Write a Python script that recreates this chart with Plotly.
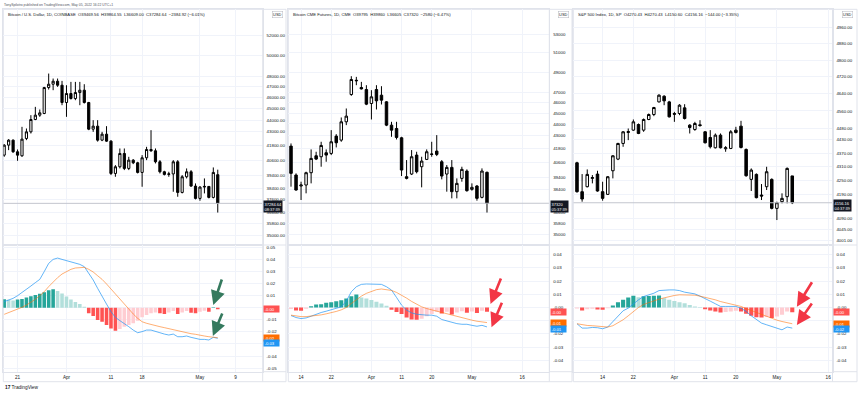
import math
import plotly.graph_objects as go

W, H = 860, 394

# ---------------- Panel 1: Bitcoin / U.S. Dollar, Coinbase, 1D (Mar 18 - May 5, 2022)
btc_open = [41033, 41855, 42273, 41305, 40979, 42413, 42978, 44043, 44424, 44571,
            46931, 47242, 47524, 47148, 45554, 46375, 45917, 46467, 46683, 45554,
            43206, 43464, 42273, 42779, 42189, 39568, 40095, 41169, 39962, 40628,
            40414, 39647, 40817, 41497, 41387, 40494, 39699, 39490, 39530, 40494,
            38103, 39307, 39699, 38585, 37652, 38509, 38560, 37727, 39469.56]
btc_high = [41940, 42357, 42330, 41497, 43406, 43263, 44424, 45164, 44926, 46993,
            48252, 47776, 47776, 47555, 47148, 47461, 47461, 47461, 47242, 45614,
            43985, 43985, 42978, 43464, 42273, 40227, 41579, 41579, 40898, 40709,
            40494, 41033, 41717, 43120, 41579, 40628, 39778, 39699, 40628, 40628,
            39438, 39962, 39831, 38790, 38585, 39177, 38585, 40042, 39864.55]
btc_low = [40898, 41442, 41223, 40575, 40898, 42273, 42836, 43985, 44277, 44512,
           46745, 46683, 46993, 45313, 44277, 45826, 45765, 45313, 45464, 43120,
           42978, 42150, 42189, 42133, 39438, 39307, 39962, 39831, 39831, 40307,
           39568, 38534, 40628, 41305, 40361, 39568, 39411, 39307, 38154, 37777,
           38028, 39177, 38534, 37578, 37478, 38028, 37652, 37652, 36609.00]
btc_close = [41855, 42273, 41305, 41033, 42357, 42978, 44043, 44424, 44630, 46931,
             47242, 47524, 47148, 45554, 46375, 45917, 46467, 46683, 45554, 43206,
             43464, 42273, 42779, 42189, 39568, 40095, 41169, 39962, 40628, 40414,
             39647, 40817, 41497, 41387, 40494, 39699, 39490, 39530, 40494, 38103,
             39307, 39699, 38585, 37652, 38509, 38560, 37727, 39647, 37284.64]
btc_macd = [0.0050, 0.0063, 0.0077, 0.0099, 0.0124, 0.0152, 0.0179, 0.0207, 0.0234, 0.0298,
            0.0366, 0.0399, 0.0410, 0.0399, 0.0388, 0.0377, 0.0372, 0.0358, 0.0339, 0.0289,
            0.0229, 0.0160, 0.0091, 0.0030, -0.0033, -0.0080, -0.0107, -0.0129, -0.0157, -0.0185,
            -0.0207, -0.0198, -0.0185, -0.0185, -0.0193, -0.0207, -0.0218, -0.0226, -0.0218, -0.0240,
            -0.0240, -0.0234, -0.0245, -0.0253, -0.0262, -0.0262, -0.0267, -0.0245, -0.0253]
btc_signal = [-0.0055, -0.0041, -0.0028, -0.0014, 0.0003, 0.0022, 0.0044, 0.0069, 0.0099, 0.0132,
              0.0174, 0.0215, 0.0248, 0.0278, 0.0300, 0.0317, 0.0328, 0.0333, 0.0333, 0.0317,
              0.0295, 0.0264, 0.0234, 0.0196, 0.0154, 0.0113, 0.0072, 0.0030, -0.0014, -0.0052,
              -0.0088, -0.0116, -0.0129, -0.0140, -0.0149, -0.0157, -0.0165, -0.0174, -0.0182, -0.0190,
              -0.0198, -0.0207, -0.0215, -0.0220, -0.0229, -0.0234, -0.0240, -0.0245, -0.0248]
btc_hist = [0.0070, 0.0065, 0.0060, 0.0068, 0.0072, 0.0085, 0.0095, 0.0105, 0.0115, 0.0128,
            0.0145, 0.0152, 0.0138, 0.0118, 0.0092, 0.0068, 0.0048, 0.0030, 0.0008, -0.0047,
            -0.0069, -0.0102, -0.0116, -0.0143, -0.0171, -0.0190, -0.0176, -0.0157, -0.0143, -0.0129,
            -0.0107, -0.0080, -0.0060, -0.0047, -0.0039, -0.0047, -0.0052, -0.0039, -0.0028, -0.0052,
            -0.0039, -0.0028, -0.0041, -0.0047, -0.0033, -0.0025, -0.0033, 0.0003, -0.0012]
btc_xtick_pos = [3, 14, 24, 31, 44, 52]
btc_xtick_text = ["21", "Apr", "11", "18", "May", "9"]
btc_price_ticks = [52000, 50000, 48000, 47000, 46000, 45000, 44000, 43000, 41800,
                   40600, 39400, 38400, 37600, 36600, 35800, 35000]
btc_macd_ticks = [0.05, 0.04, 0.03, 0.02, 0.01, 0.0, -0.01, -0.02, -0.03, -0.04, -0.05]
btc_macd_ticks_hidden = [0.0, -0.03]          # covered by the value tags
btc_title = "Bitcoin / U.S. Dollar, 1D, COINBASE  O39469.56  H39864.55  L36609.00  C37284.64  \u22122384.92 (\u22126.01%)"

# ---------------- Panel 2: Bitcoin CME Futures, 1D (Mar 10 - May 5, 2022)
cme_open = [42024, 39572, 38680, 38760, 39764, 41190, 41105, 41447, 41390, 42904,
            42550, 44199, 46778, 48123, 47462, 47265, 45913, 47265, 46713, 46072,
            43894, 43592, 42756, 39436, 39655, 41247, 40262, 40878, 41304, 41590,
            40681, 39655, 40206, 38228, 39300, 39902, 38413, 38680, 37780, 39795]
cme_high = [42257, 39710, 39029, 39847, 41735, 41533, 42403, 41735, 43441, 43082,
            44599, 45439, 48591, 48523, 48023, 47692, 47200, 47692, 47593, 46136,
            44199, 44199, 42845, 40822, 41677, 41533, 41105, 41735, 42403, 42993,
            40822, 40401, 40822, 39300, 40262, 40040, 38894, 38760, 40123, 39860]
cme_low = [38627, 38307, 37572, 38096, 38894, 40822, 40262, 40681, 41247, 41908,
           42403, 43894, 46649, 47692, 47265, 45755, 44414, 45345, 45818, 43803,
           42845, 42609, 39490, 39218, 39572, 39710, 38573, 40822, 41105, 41161,
           39218, 38228, 37702, 37702, 39029, 38228, 38307, 37520, 37702, 36605]
cme_close = [39710, 38360, 38760, 39764, 40963, 40906, 42082, 41247, 42403, 42315,
             44199, 44723, 48256, 48170, 47330, 45850, 46552, 46168, 46232, 43894,
             43441, 42786, 39984, 39300, 41105, 39847, 40737, 41533, 41332, 41304,
             39490, 40206, 38228, 38894, 40040, 38307, 38573, 37702, 39902, 37320]
cme_macd = [-0.0061, -0.0076, -0.0084, -0.0079, -0.0066, -0.0051, -0.0038, -0.0028, -0.0018, -0.0008,
            0.0005, 0.0048, 0.0119, 0.0157, 0.0175, 0.0178, 0.0178, 0.0178, 0.0175, 0.0157,
            0.0132, 0.0076, 0.0018, -0.0020, -0.0041, -0.0051, -0.0056, -0.0058, -0.0058, -0.0066,
            -0.0091, -0.0102, -0.0109, -0.0122, -0.0127, -0.0127, -0.0135, -0.0142, -0.0135, -0.0147]
cme_signal = [-0.0058, -0.0066, -0.0069, -0.0069, -0.0066, -0.0061, -0.0056, -0.0048, -0.0041, -0.0030,
              -0.0018, 0.0000, 0.0030, 0.0061, 0.0086, 0.0107, 0.0124, 0.0135, 0.0140, 0.0137,
              0.0129, 0.0114, 0.0094, 0.0071, 0.0046, 0.0023, 0.0005, -0.0008, -0.0018, -0.0028,
              -0.0041, -0.0051, -0.0061, -0.0071, -0.0081, -0.0089, -0.0096, -0.0104, -0.0109, -0.0114]
cme_hist = [-0.0012, -0.0022, -0.0024, -0.0010, 0.0010, 0.0022, 0.0025, 0.0035, 0.0040, 0.0048,
            0.0055, 0.0068, 0.0086, 0.0099, 0.0076, 0.0069, 0.0056, 0.0043, 0.0030, 0.0013,
            -0.0018, -0.0035, -0.0050, -0.0076, -0.0090, -0.0093, -0.0085, -0.0066, -0.0050, -0.0033,
            -0.0045, -0.0033, -0.0053, -0.0038, -0.0028, -0.0040, -0.0030, -0.0041, -0.0025, -0.0033]
cme_xtick_pos = [2, 8, 16, 22, 28, 36, 46]
cme_xtick_text = ["14", "22", "Apr", "11", "20", "May", "16"]
cme_price_ticks = [53000, 51000, 49000, 47000, 46000, 45000, 44000, 43000, 41800,
                   40600, 39400, 38400, 36600, 35800, 35000]
cme_macd_ticks = [0.04, 0.03, 0.02, 0.01, 0.0, -0.01, -0.02, -0.03, -0.04]
cme_macd_ticks_hidden = [-0.01]
cme_title = "Bitcoin CME Futures, 1D, CME  O39795  H39860  L36605  C37320  \u22122580 (\u22126.47%)"

# ---------------- Panel 3: S&P 500 Index, 1D (Mar 7 - May 5, 2022)
spx_open = [4327.5, 4202.9, 4224.1, 4259.8, 4278.4, 4202.9, 4191.6, 4292.8, 4343.6, 4412.8,
            4462.1, 4472.6, 4498.2, 4472.6, 4521.0, 4543.8, 4602.2, 4628.6, 4602.2, 4548.4,
            4548.4, 4574.5, 4495.2, 4475.6, 4496.7, 4465.1, 4439.6, 4393.6, 4450.1, 4389.2,
            4390.6, 4472.6, 4490.7, 4386.2, 4255.5, 4277.0, 4188.8, 4224.1, 4255.5, 4132.7,
            4160.7, 4181.8, 4270.43]
spx_high = [4331.9, 4278.4, 4298.6, 4274.1, 4292.8, 4245.5, 4269.8, 4361.2, 4415.8, 4468.1,
            4480.1, 4521.0, 4502.8, 4525.5, 4548.4, 4579.1, 4638.0, 4633.3, 4606.9, 4556.0,
            4591.4, 4591.4, 4499.7, 4510.3, 4517.9, 4468.1, 4472.6, 4457.6, 4457.6, 4401.0,
            4472.6, 4487.7, 4514.9, 4390.6, 4302.9, 4281.3, 4235.5, 4310.1, 4259.8, 4160.7,
            4195.9, 4307.2, 4270.43]
spx_low = [4198.7, 4160.7, 4221.3, 4238.4, 4202.9, 4164.9, 4188.8, 4259.8, 4339.2, 4398.0,
           4427.7, 4469.6, 4454.6, 4465.1, 4517.9, 4536.2, 4599.1, 4586.8, 4530.1, 4510.3,
           4540.8, 4521.0, 4457.6, 4469.6, 4487.7, 4412.8, 4390.6, 4390.6, 4390.6, 4375.9,
           4387.7, 4457.6, 4390.6, 4266.9, 4205.7, 4174.7, 4167.7, 4210.0, 4128.6, 4084.2,
           4153.7, 4153.7, 4150.60]
spx_close = [4202.9, 4171.9, 4277.0, 4263.0, 4205.7, 4174.7, 4266.9, 4358.2, 4412.8, 4465.1,
             4466.0, 4510.3, 4457.6, 4521.0, 4543.8, 4576.0, 4633.3, 4606.9, 4533.1, 4545.3,
             4586.8, 4525.5, 4484.7, 4502.8, 4493.7, 4415.8, 4398.0, 4450.1, 4393.6, 4393.6,
             4465.1, 4462.1, 4395.0, 4271.3, 4295.7, 4177.6, 4184.6, 4288.5, 4132.7, 4156.5,
             4174.7, 4302.9, 4156.16]
spx_macd = [-0.0123, -0.0156, -0.0156, -0.0151, -0.0153, -0.0161, -0.0148, -0.0106, -0.0068, -0.0025,
            -0.0005, 0.0028, 0.0058, 0.0083, 0.0093, 0.0108, 0.0128, 0.0133, 0.0133, 0.0133,
            0.0128, 0.0116, 0.0108, 0.0103, 0.0086, 0.0070, 0.0048, 0.0028, 0.0008, 0.0008,
            0.0008, 0.0008, -0.0005, -0.0030, -0.0063, -0.0093, -0.0118, -0.0131, -0.0143, -0.0156,
            -0.0169, -0.0148, -0.0156]
spx_signal = [-0.0123, -0.0131, -0.0136, -0.0138, -0.0141, -0.0143, -0.0148, -0.0138, -0.0118, -0.0093,
              -0.0063, -0.0030, 0.0000, 0.0023, 0.0038, 0.0053, 0.0063, 0.0073, 0.0083, 0.0091,
              0.0096, 0.0096, 0.0096, 0.0093, 0.0086, 0.0078, 0.0068, 0.0058, 0.0045, 0.0035,
              0.0028, 0.0018, 0.0008, -0.0008, -0.0023, -0.0038, -0.0053, -0.0068, -0.0083, -0.0096,
              -0.0106, -0.0116, -0.0123]
spx_hist = [-0.0008, -0.0023, -0.0013, -0.0010, -0.0015, -0.0018, -0.0005, 0.0015, 0.0040, 0.0058,
            0.0075, 0.0088, 0.0078, 0.0085, 0.0087, 0.0088, 0.0090, 0.0070, 0.0058, 0.0050,
            0.0040, 0.0033, 0.0018, 0.0008, 0.0003, -0.0013, -0.0022, -0.0030, -0.0038, -0.0035,
            -0.0030, -0.0025, -0.0030, -0.0048, -0.0063, -0.0073, -0.0075, -0.0072, -0.0080, -0.0068,
            -0.0055, -0.0030, -0.0036]
spx_xtick_pos = [5, 11, 19, 25, 31, 39, 49]
spx_xtick_text = ["14", "22", "Apr", "11", "20", "May", "16"]
spx_price_ticks = [4960, 4880, 4800, 4720, 4640, 4560, 4480, 4430, 4370, 4310,
                   4250, 4190, 4090, 4045, 4001]
spx_macd_ticks = [0.04, 0.03, 0.02, 0.01, 0.0, -0.01, -0.02, -0.03, -0.04]
spx_macd_ticks_hidden = [-0.01]
spx_title = "S&P 500 Index, 1D, SP  O4270.43  H4270.43  L4150.60  C4156.16  \u2212144.00 (\u22123.35%)"

header_text = "TonySpilotro published on TradingView.com, May 05, 2022 16:22 UTC+1"

# ---------------- styling / geometry
FONT = "Liberation Sans, Arial, sans-serif"
TXT = "#131722"
GRID = "#f0f3fa"
BORDER = "#e0e3eb"
UP_STRONG, UP_WEAK = "#26a69a", "#b2dfdb"
DN_STRONG, DN_WEAK = "#ff5252", "#ffcdd2"
MACD_COL, SIG_COL = "#2196f3", "#ff6d00"

TOP, SEP, MB, BOT = 9.3, 245.0, 371.7, 381.7


def px_x(p):
    return p / W


def px_y(p):
    return 1 - p / H


def hist_colors(vals):
    cols, prev = [], None
    for v in vals:
        p = v if prev is None else prev
        if v >= 0:
            cols.append(UP_STRONG if v >= p else UP_WEAK)
        else:
            cols.append(DN_STRONG if v < p else DN_WEAK)
        prev = v
    return cols


def macd_tick_text(ticks, hidden):
    out = []
    for v in ticks:
        if v in hidden:
            out.append("")
        elif v == 0:
            out.append("-0.00")
        else:
            out.append(f"{v:.2f}")
    return out


panels = [
    dict(o=btc_open, h=btc_high, l=btc_low, c=btc_close, m=btc_macd, s=btc_signal, hist=btc_hist,
         xt=btc_xtick_pos, xtt=btc_xtick_text, pt=btc_price_ticks, pfmt="{:.2f}", mt=btc_macd_ticks,
         mth=btc_macd_ticks_hidden,
         title=btc_title, left=3.3, axis=262.7, right=286.0, xr=[-0.2, 58.1],
         pr=[34324, 54823], mr=[-0.0529, 0.0518], timer="08:37:39",
         arrow_col="#357a5e", arrows=[(47.0, 0.0022, 9, -27), (46.9, -0.0234, 10, -24)],
         blue_shift=-5),
    dict(o=cme_open, h=cme_high, l=cme_low, c=cme_close, m=cme_macd, s=cme_signal, hist=cme_hist,
         xt=cme_xtick_pos, xtt=cme_xtick_text, pt=cme_price_ticks, pfmt="{:.0f}", mt=cme_macd_ticks,
         mth=cme_macd_ticks_hidden,
         title=cme_title, left=288.3, axis=549.3, right=572.0, xr=[-0.54, 51.4],
         pr=[34220, 55835], mr=[-0.0486, 0.0473], timer="05:37:39",
         arrow_col="#f23645", arrows=[(39.7, 0.0026, 11, -27), (39.9, -0.0149, 11, -26)],
         blue_shift=-2.5),
    dict(o=spx_open, h=spx_high, l=spx_low, c=spx_close, m=spx_macd, s=spx_signal, hist=spx_hist,
         xt=spx_xtick_pos, xtt=spx_xtick_text, pt=spx_price_ticks, pfmt="{:.2f}", mt=spx_macd_ticks,
         mth=spx_macd_ticks_hidden,
         title=spx_title, left=573.3, axis=832.5, right=857.0, xr=[-0.72, 49.85],
         pr=[3982.5, 5053.5], mr=[-0.0486, 0.0473], timer="04:37:39",
         arrow_col="#f23645", arrows=[(42.9, 0.0006, 16, -26), (42.9, -0.0132, 16, -23)],
         blue_shift=-1.0),
]

fig = go.Figure()
layout = dict(width=W, height=H, margin=dict(l=0, r=0, t=0, b=0),
              paper_bgcolor="white", plot_bgcolor="white", showlegend=False,
              font=dict(family=FONT, color=TXT, size=5), boxgap=0.3)
shapes, annotations = [], []

for i, P in enumerate(panels):
    n1, n2 = 2 * i + 1, 2 * i + 2
    xs1 = "x" if n1 == 1 else f"x{n1}"
    ys1 = "y" if n1 == 1 else f"y{n1}"
    xs2, ys2 = f"x{n2}", f"y{n2}"
    xk1 = "xaxis" if n1 == 1 else f"xaxis{n1}"
    yk1 = "yaxis" if n1 == 1 else f"yaxis{n1}"
    xk2, yk2 = f"xaxis{n2}", f"yaxis{n2}"
    idx = list(range(len(P["c"])))
    last = P["c"][-1]

    # current price line
    fig.add_trace(go.Scatter(x=P["xr"], y=[last, last], mode="lines",
                             line=dict(color="#c3c6ce", width=1), hoverinfo="skip",
                             xaxis=xs1, yaxis=ys1))
    fig.add_trace(go.Candlestick(
        x=idx, open=P["o"], high=P["h"], low=P["l"], close=P["c"],
        increasing=dict(line=dict(color="#000000", width=1), fillcolor="#ffffff"),
        decreasing=dict(line=dict(color="#000000", width=1), fillcolor="#000000"),
        whiskerwidth=0, hoverinfo="skip", xaxis=xs1, yaxis=ys1))
    fig.add_trace(go.Bar(x=idx, y=P["hist"], marker=dict(color=hist_colors(P["hist"]), line=dict(width=0)),
                         width=0.8, hoverinfo="skip", xaxis=xs2, yaxis=ys2))
    fig.add_trace(go.Scatter(x=idx, y=P["m"], mode="lines", line=dict(color=MACD_COL, width=1),
                             opacity=0.7, hoverinfo="skip", xaxis=xs2, yaxis=ys2))
    fig.add_trace(go.Scatter(x=idx, y=P["s"], mode="lines", line=dict(color=SIG_COL, width=1),
                             opacity=0.55, hoverinfo="skip", xaxis=xs2, yaxis=ys2))

    xdom = [px_x(P["left"]), px_x(P["axis"])]
    common_x = dict(domain=xdom, range=P["xr"], showgrid=True, gridcolor=GRID, gridwidth=1,
                    zeroline=False, showline=True, mirror=True, linecolor=BORDER, linewidth=1,
                    tickvals=P["xt"], ticks="", fixedrange=True)
    layout[xk1] = dict(common_x, anchor=ys1, showticklabels=False, rangeslider=dict(visible=False))
    layout[xk2] = dict(common_x, anchor=ys2, ticktext=P["xtt"],
                       tickfont=dict(size=4.6, color=TXT), ticklabelstandoff=1)
    layout[yk1] = dict(domain=[px_y(SEP), px_y(TOP)], type="log",
                       range=[math.log10(P["pr"][0]), math.log10(P["pr"][1])],
                       side="right", anchor=xs1, tickvals=P["pt"],
                       ticktext=[P["pfmt"].format(v) for v in P["pt"]],
                       tickfont=dict(size=4.4, color=TXT), showgrid=True, gridcolor=GRID,
                       zeroline=False, showline=True, mirror=True, linecolor=BORDER, ticks="",
                       ticklabelstandoff=2, fixedrange=True)
    layout[yk2] = dict(domain=[px_y(MB), px_y(SEP)], range=P["mr"], side="right", anchor=xs2,
                       tickvals=P["mt"], ticktext=macd_tick_text(P["mt"], P["mth"]),
                       tickfont=dict(size=4.4, color=TXT), showgrid=True, gridcolor=GRID,
                       zeroline=False, showline=True, mirror=True, linecolor=BORDER, ticks="",
                       ticklabelstandoff=2, fixedrange=True)

    # panel frame
    shapes.append(dict(type="rect", xref="paper", yref="paper", x0=px_x(P["left"]), x1=px_x(P["right"]),
                       y0=px_y(BOT), y1=px_y(TOP), line=dict(color=BORDER, width=1), layer="below"))
    for yy in (SEP, MB):
        shapes.append(dict(type="line", xref="paper", yref="paper", x0=px_x(P["axis"]), x1=px_x(P["right"]),
                           y0=px_y(yy), y1=px_y(yy), line=dict(color=BORDER, width=1)))
    shapes.append(dict(type="line", xref="paper", yref="paper", x0=px_x(P["axis"]), x1=px_x(P["axis"]),
                       y0=px_y(BOT), y1=px_y(TOP), line=dict(color=BORDER, width=1)))

    # legend title
    annotations.append(dict(text=P["title"], xref="paper", yref="paper", x=px_x(P["left"] + 2.5),
                            y=px_y(14.7), xanchor="left", yanchor="middle", showarrow=False,
                            font=dict(size=4.2, color=TXT)))
    # USD badge
    annotations.append(dict(text="USD", xref="paper", yref="paper", x=px_x(P["axis"] + 14.5),
                            y=px_y(14.5), xanchor="center", yanchor="middle", showarrow=False,
                            font=dict(size=3.9, color=TXT), bordercolor="#b2b5be", borderwidth=0.5,
                            borderpad=0.6, bgcolor="white"))
    # current price tag
    annotations.append(dict(text=f"{P['pfmt'].format(last)}<br>{P['timer']}", xref="paper", yref=ys1,
                            x=px_x(P["axis"] + 0.5), y=math.log10(last), xanchor="left", yanchor="top",
                            yshift=3.5, showarrow=False, align="left", bgcolor="#131722",
                            font=dict(size=4.0, color="white"), borderpad=0.5))
    # MACD value tags
    tags = [(P["hist"][-1], DN_STRONG if P["hist"][-1] < 0 else UP_STRONG, 0),
            (P["s"][-1], SIG_COL, 0),
            (P["m"][-1], MACD_COL, P["blue_shift"])]
    for val, col, shift in tags:
        annotations.append(dict(text=f"{val:.2f}", xref="paper", yref=ys2, x=px_x(P["axis"] + 0.5),
                                y=val, xanchor="left", yanchor="middle", yshift=shift, showarrow=False,
                                bgcolor=col, font=dict(size=4.2, color="white"), borderpad=0.5,
                                width=14, align="left"))
    # hand-drawn arrows
    for (ax_x, ax_y, dx, dy) in P["arrows"]:
        annotations.append(dict(x=ax_x, y=ax_y, xref=xs2, yref=ys2, ax=dx, ay=dy, text="",
                                showarrow=True, arrowhead=2, arrowsize=1.1, arrowwidth=2.6,
                                arrowcolor=P["arrow_col"], standoff=0))

annotations.append(dict(text=header_text, xref="paper", yref="paper", x=px_x(2), y=px_y(4.6),
                        xanchor="left", yanchor="middle", showarrow=False,
                        font=dict(size=3.4, color="#50535e")))
annotations.append(dict(text="<b>17</b> TradingView", xref="paper", yref="paper", x=px_x(3), y=px_y(387.5),
                        xanchor="left", yanchor="middle", showarrow=False,
                        font=dict(size=4.8, color="#131722")))

layout["shapes"] = shapes
layout["annotations"] = annotations
fig.update_layout(**layout)
fig.write_html("out.html", config={"displayModeBar": False, "staticPlot": True},
               post_script="document.body.style.margin='0px';document.body.style.overflow='hidden';")
